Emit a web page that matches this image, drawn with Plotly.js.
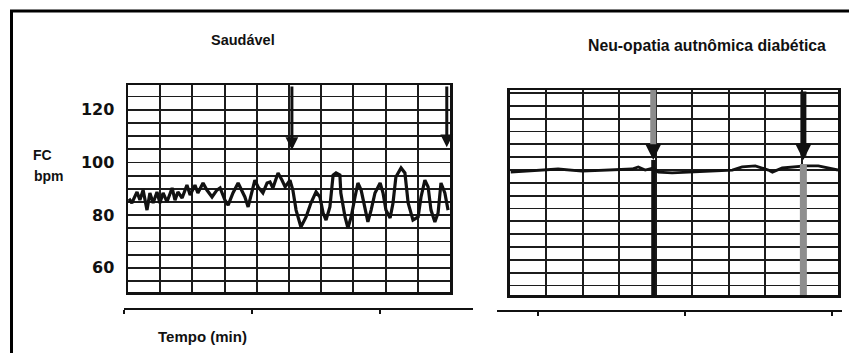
<!DOCTYPE html>
<html>
<head>
<meta charset="utf-8">
<script src="https://cdn.plot.ly/plotly-3.0.1.min.js"></script>
<style>
  html, body { margin: 0; padding: 0; background: #fff; }
  #chart { width: 849px; height: 353px; }
</style>
</head>
<body>
<div id="chart"></div>
<script>
// Heart-rate record, healthy subject (grid units of time, bpm)
const healthyTime = [0.03,0.12,0.28,0.37,0.47,0.59,0.68,0.78,0.90,0.99,1.09,1.21,1.37,1.46,1.55,1.68,1.83,1.93,2.08,2.17,2.33,2.45,2.61,2.76,2.86,3.01,3.11,3.26,3.42,3.54,3.63,3.73,3.85,3.94,4.04,4.19,4.32,4.41,4.50,4.66,4.78,4.88,5.03,5.12,5.22,5.37,5.53,5.68,5.84,5.96,6.06,6.15,6.27,6.37,6.46,6.58,6.61,6.74,6.83,6.93,7.05,7.14,7.24,7.36,7.45,7.55,7.67,7.83,7.92,8.01,8.14,8.23,8.32,8.48,8.60,8.70,8.85,9.01,9.10,9.22,9.32,9.41,9.53,9.63,9.72,9.84,9.94];
const healthyHR = [86.2,84.6,88.8,85.7,89.5,81.9,88.4,84.6,88.8,84.6,88.4,85.0,90.3,85.7,88.8,86.5,91.4,87.6,91.4,88.4,92.2,89.5,86.9,89.5,90.3,85.7,83.8,88.4,92.2,88.8,86.9,83.1,88.4,93.3,90.7,88.4,92.2,92.6,90.3,96.0,93.3,90.7,93.3,89.5,81.9,75.5,79.3,84.6,88.8,86.9,80.8,78.1,83.1,95.2,96.0,95.2,88.4,79.3,75.1,79.3,86.9,92.2,89.5,81.9,77.4,81.9,88.4,92.2,88.4,81.9,78.9,84.6,94.5,97.9,96.0,84.6,78.1,79.3,86.9,93.3,90.7,81.9,77.4,80.8,92.2,88.4,81.9];

// Heart-rate record, diabetic autonomic neuropathy
const neuroTime = [0.02,0.41,0.77,1.32,1.98,2.61,3.35,3.52,3.71,3.93,4.07,4.45,4.81,5.36,6.10,6.37,6.73,7.09,7.20,7.47,7.83,8.10,8.46,8.74,9.00];
const neuroHR = [99.2,99.6,100.0,100.4,99.6,100.0,100.4,101.2,100.0,100.8,99.2,98.9,99.2,99.6,100.0,101.2,101.6,100.0,99.2,100.8,101.2,101.6,101.6,100.8,100.0];

// Event markers (arrows): time and heart rate at the arrow tip
const healthyEvents = [5.09, 9.90];
const healthyEventTips = [104.7, 105.8];
const neuroEvents = [3.93, 8.05];
const neuroEventTips = [103.9, 103.9];

// Axis labels
const hrTickVals = [60, 80, 100, 120];
const hrTickText = ['60', '80', '100', '120'];
const timeTickVals = [0, 4, 8];

const titleHealthy = 'Saudável';
const titleNeuro = 'Neu-opatia autnômica diabética';
const yTitleTop = 'FC';
const yTitleBottom = 'bpm';
const xTitle = 'Tempo (min)';

// ---- layout helpers (pixel -> paper) ----
const W = 849, H = 353;
const px = x => x / W;
const py = y => 1 - y / H;

const INK = '#111';
const SANS = '"Liberation Sans", Arial, sans-serif';

const hrRangeL = [50.8, 129.4];
const hrRangeR = [51.3, 131.2];
const gridStep = 5;

// every grid line gets a tick; only some carry a label
const gridVals = [];
for (let v = Math.ceil(hrRangeL[0] / gridStep) * gridStep; v < hrRangeL[1]; v += gridStep) gridVals.push(v);
const gridText = gridVals.map(v => {
  const i = hrTickVals.indexOf(v);
  return i >= 0 ? hrTickText[i] : '';
});

const traces = [
  { x: healthyTime, y: healthyHR, xaxis: 'x', yaxis: 'y', type: 'scatter', mode: 'lines',
    line: { color: INK, width: 3.2 }, hoverinfo: 'skip' },
  { x: neuroTime, y: neuroHR, xaxis: 'x2', yaxis: 'y2', type: 'scatter', mode: 'lines',
    line: { color: INK, width: 2.8 }, hoverinfo: 'skip' },
  // empty series that carry the detached time axes under each panel
  { x: [], y: [], xaxis: 'x3', yaxis: 'y3', type: 'scatter', mode: 'lines', hoverinfo: 'skip' },
  { x: [], y: [], xaxis: 'x4', yaxis: 'y4', type: 'scatter', mode: 'lines', hoverinfo: 'skip' }
];

const txt = (text, x, y, size, xanchor) => ({
  text, xref: 'paper', yref: 'paper', x: px(x), y: py(y), showarrow: false,
  xanchor: xanchor || 'center', yanchor: 'middle',
  font: { family: SANS, size, color: INK, weight: 'bold' }
});

const annotations = [
  txt(titleHealthy, 243, 40, 14.5),
  txt(titleNeuro, 707, 46, 15.8),
  txt(yTitleTop, 31, 155, 14, 'left'),
  txt(yTitleBottom, 32, 176, 14, 'left'),
  txt(xTitle, 156, 336, 15, 'left')
];

// arrows in the healthy record
healthyEvents.forEach((t, i) => {
  annotations.push({ text: '', x: t, y: healthyEventTips[i], xref: 'x', yref: 'y',
    axref: 'x', ayref: 'y', ax: t, ay: hrRangeL[1], showarrow: true,
    arrowhead: 2, arrowsize: 0.85, arrowwidth: 3, arrowcolor: INK, standoff: 0 });
});

const shapes = [
  // frame
  { type: 'line', xref: 'paper', yref: 'paper', x0: px(10), x1: 1, y0: py(11), y1: py(11),
    line: { color: '#000', width: 3 } },
  { type: 'line', xref: 'paper', yref: 'paper', x0: px(11.5), x1: px(11.5), y0: py(10), y1: 0,
    line: { color: '#000', width: 3 } }
];

// first neuropathy event: grey shaft, black head, black line below
shapes.push({ type: 'line', xref: 'x2', yref: 'y2', x0: neuroEvents[0], x1: neuroEvents[0],
  y0: hrRangeR[1], y1: neuroEventTips[0] + 4, line: { color: '#8c8c8c', width: 6 } });
annotations.push({ text: '', x: neuroEvents[0], y: neuroEventTips[0], xref: 'x2', yref: 'y2',
  axref: 'x2', ayref: 'y2', ax: neuroEvents[0], ay: neuroEventTips[0] + 6, showarrow: true,
  arrowhead: 2, arrowsize: 1.05, arrowwidth: 3, arrowcolor: INK, standoff: 0 });
shapes.push({ type: 'line', xref: 'x2', yref: 'y2', x0: neuroEvents[0], x1: neuroEvents[0],
  y0: neuroEventTips[0], y1: hrRangeR[0], line: { color: INK, width: 4 } });

// second neuropathy event: black arrow, grey band below
annotations.push({ text: '', x: neuroEvents[1], y: neuroEventTips[1], xref: 'x2', yref: 'y2',
  axref: 'x2', ayref: 'y2', ax: neuroEvents[1], ay: hrRangeR[1], showarrow: true,
  arrowhead: 2, arrowsize: 0.55, arrowwidth: 6, arrowcolor: INK, standoff: 0 });
shapes.push({ type: 'line', xref: 'x2', yref: 'y2', x0: neuroEvents[1], x1: neuroEvents[1],
  y0: neuroEventTips[1] - 1.5, y1: hrRangeR[0], line: { color: '#8f8f8f', width: 7 } });

const panelX = {
  showline: true, mirror: true, linecolor: INK, linewidth: 2.5,
  showgrid: true, gridcolor: '#1c1c1c', gridwidth: 2,
  zeroline: false, ticks: '', showticklabels: false, dtick: 1, tick0: 0
};
const baseAxis = {
  showline: true, linecolor: INK, linewidth: 2, showgrid: false, zeroline: false,
  ticks: 'outside', ticklen: 4, tickwidth: 2, tickcolor: INK, showticklabels: false,
  tickmode: 'array', tickvals: timeTickVals
};

const layout = {
  width: W, height: H, autosize: false,
  margin: { l: 0, r: 0, t: 0, b: 0, pad: 0 },
  paper_bgcolor: '#fff', plot_bgcolor: 'rgba(0,0,0,0)',
  showlegend: false,
  xaxis: Object.assign({}, panelX, { domain: [px(128), px(450)], range: [0, 10], anchor: 'y' }),
  yaxis: {
    domain: [py(292), py(85)], range: hrRangeL, anchor: 'x',
    showline: true, mirror: true, linecolor: INK, linewidth: 2.5,
    showgrid: true, gridcolor: '#1c1c1c', gridwidth: 1.8, zeroline: false,
    tickmode: 'array', tickvals: gridVals, ticktext: gridText,
    ticks: 'outside', ticklen: 8, tickcolor: 'rgba(0,0,0,0)',
    tickfont: { family: '"DejaVu Sans", sans-serif', size: 16, color: INK, weight: 'bold' }
  },
  xaxis2: Object.assign({}, panelX, { domain: [px(510), px(838)], range: [0, 9], anchor: 'y2' }),
  yaxis2: {
    domain: [py(295), py(90)], range: hrRangeR, anchor: 'x2',
    showline: true, mirror: true, linecolor: INK, linewidth: 3,
    showgrid: true, gridcolor: '#1c1c1c', gridwidth: 1.8, zeroline: false,
    dtick: gridStep, tick0: 0, ticks: '', showticklabels: false
  },
  // detached time axes under each panel
  xaxis3: Object.assign({}, baseAxis, { domain: [px(124), px(473)], range: [0, 349 / 32], anchor: 'y3' }),
  yaxis3: { domain: [py(308), py(304)], range: [0, 1], anchor: 'x3', visible: false, fixedrange: true },
  xaxis4: Object.assign({}, baseAxis, { domain: [px(497), px(842)], range: [-41 / 36.75, 304 / 36.75], anchor: 'y4' }),
  yaxis4: { domain: [py(310), py(306)], range: [0, 1], anchor: 'x4', visible: false, fixedrange: true },
  annotations: annotations,
  shapes: shapes
};

Plotly.newPlot('chart', traces, layout, { staticPlot: true, displayModeBar: false });
</script>
</body>
</html>
